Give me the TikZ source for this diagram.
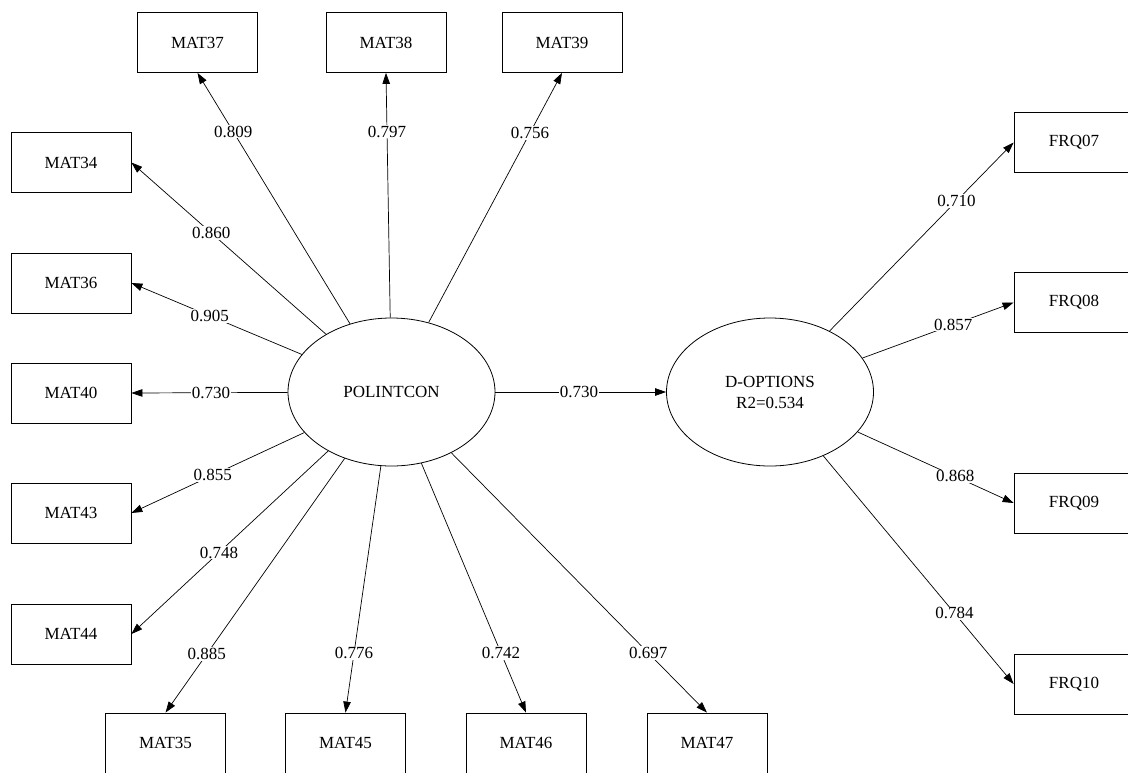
\documentclass[tikz,border=0pt]{standalone}
\usepackage{fontspec}
\setmainfont{Liberation Serif}
\usetikzlibrary{shapes.geometric,arrows.meta}
\begin{document}
\begin{tikzpicture}[x=1pt,y=-1pt,
  every node/.style={font=\fontsize{17}{21}\selectfont},
  ind/.style={draw,line width=0.8pt,minimum width=120pt,minimum height=60pt,inner sep=0pt},
  lat/.style={draw,ellipse,line width=0.8pt,minimum width=207pt,minimum height=148pt,inner sep=0pt,align=center},
  load/.style={line width=0.7pt,-{Triangle[length=11pt,width=7.5pt]}},
  lbl/.style={fill=white,inner sep=1pt}]
\useasboundingbox (0,0) rectangle (1128,772);
\fill[white] (0,0) rectangle (1128,772);
\clip (0,0) rectangle (1128,772);

% latent variables
\node[lat] (P) at (391.5,392) {POLINTCON};
\node[lat] (D) at (770,392) {D-OPTIONS\\R2=0.534};

% indicators of POLINTCON
\node[ind] (m37) at (197.5,42.5) {MAT37};
\node[ind] (m38) at (386,42.5) {MAT38};
\node[ind] (m39) at (562,42.5) {MAT39};
\node[ind] (m34) at (71,162.5) {MAT34};
\node[ind] (m36) at (71,283) {MAT36};
\node[ind] (m40) at (71,393) {MAT40};
\node[ind] (m43) at (71,513) {MAT43};
\node[ind] (m44) at (71,634) {MAT44};
\node[ind] (m35) at (165.5,743) {MAT35};
\node[ind] (m45) at (345.5,743) {MAT45};
\node[ind] (m46) at (526,743) {MAT46};
\node[ind] (m47) at (707,743) {MAT47};

% indicators of D-OPTIONS
\node[ind] (f07) at (1074,142.5) {FRQ07};
\node[ind] (f08) at (1074,302.5) {FRQ08};
\node[ind] (f09) at (1074,503) {FRQ09};
\node[ind] (f10) at (1074,684) {FRQ10};

% loadings
\draw[load] (P) -- node[lbl,pos=0.766] {0.809} (m37.south);
\draw[load] (P) -- node[lbl,pos=0.76] {0.797} (m38.south);
\draw[load] (P) -- node[lbl,pos=0.76] {0.756} (m39.south);
\draw[load] (P) -- node[lbl,pos=0.59] {0.860} (m34.east);
\draw[load] (P) -- node[lbl,pos=0.54] {0.905} (m36.east);
\draw[load] (P) -- node[lbl,pos=0.49] {0.730} (m40.east);
\draw[load] (P) -- node[lbl,pos=0.53] {0.855} (m43.east);
\draw[load] (P) -- node[lbl,pos=0.555] {0.748} (m44.east);
\draw[load] (P) -- node[lbl,pos=0.77] {0.885} (m35.north);
\draw[load] (P) -- node[lbl,pos=0.76] {0.776} (m45.north);
\draw[load] (P) -- node[lbl,pos=0.76] {0.742} (m46.north);
\draw[load] (P) -- node[lbl,pos=0.77] {0.697} (m47.north);

% structural path
\draw[load] (P) -- node[lbl,pos=0.49] {0.730} (D);

\draw[load] (D) -- node[lbl,pos=0.69] {0.710} (f07.west);
\draw[load] (D) -- node[lbl,pos=0.6] {0.857} (f08.west);
\draw[load] (D) -- node[lbl,pos=0.625] {0.868} (f09.west);
\draw[load] (D) -- node[lbl,pos=0.69] {0.784} (f10.west);
\end{tikzpicture}
\end{document}
